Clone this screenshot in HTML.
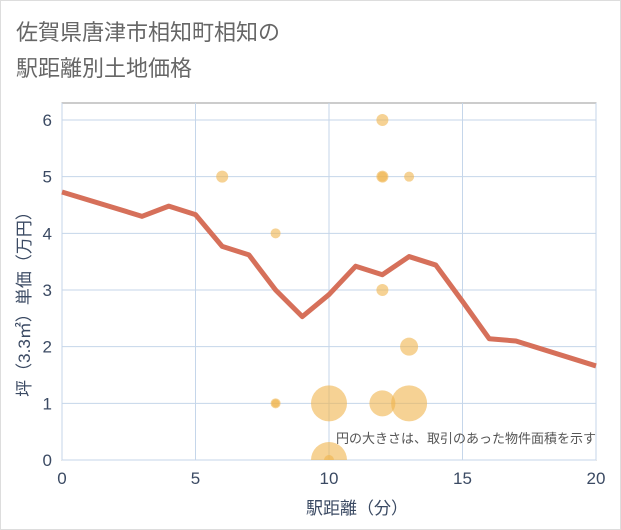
<!DOCTYPE html>
<html><head><meta charset="utf-8"><style>
body{margin:0;background:#fff;}
svg{display:block;font-family:"Liberation Sans","Noto Sans CJK JP",sans-serif;}
</style></head><body>
<svg width="621" height="530" viewBox="0 0 621 530">
<rect x="0.5" y="0.5" width="620" height="529" fill="#fff" stroke="#ddd"/>
<text x="16" y="40" font-size="22" fill="#666">佐賀県唐津市相知町相知の</text>
<text x="16" y="76" font-size="22" fill="#666">駅距離別土地価格</text>
<defs><clipPath id="pc"><rect x="62" y="103" width="534" height="357"/></clipPath></defs>
<rect x="62" y="103" width="534" height="357" fill="#fff" stroke="#999"/>
<g id="grid"></g><g id="axes"></g>
<g id="bubbles" clip-path="url(#pc)"></g>
<g id="line"></g>
<text x="596" y="443" font-size="13" fill="#555" text-anchor="end">円の大きさは、取引のあった物件面積を示す</text>
<text x="357" y="514" font-size="17" fill="#3b4a63" text-anchor="middle">駅距離（分）</text>
<text transform="translate(30,300) rotate(-90)" font-size="17" fill="#3b4a63" text-anchor="middle">坪（3.3㎡）単価（万円）</text>
</svg>
<script>
const xTicks=[0,5,10,15,20];
const yTicks=[0,1,2,3,4,5,6];
const lineX=[0,3,4,5,6,7,8,9,10,11,12,13,14,15,16,17,20];
const lineY=[4.73,4.3,4.48,4.33,3.77,3.62,3.0,2.53,2.92,3.42,3.27,3.59,3.44,2.8,2.14,2.1,1.66];
const bubX=[6,8,8,8,10,10,10,12,12,12,12,12,13,13,13];
const bubY=[5,4,1,1,1,0,0,6,5,5,3,1,5,2,1];
const bubR=[6,5,5,4,18,18,5,6,6,5,6,13,5,9,18];
const NS="http://www.w3.org/2000/svg";
const sx=v=>62+v*534/20, sy=v=>460-v*340/6;
function mk(t,a,p){const e=document.createElementNS(NS,t);for(const k in a)e.setAttribute(k,a[k]);p.appendChild(e);return e;}
const g=document.getElementById('grid'),ax=document.getElementById('axes');
xTicks.forEach(v=>{
 const l=mk('line',{x1:sx(v),x2:sx(v),y1:103,y2:460,stroke:'#c5d6ea','stroke-width':1},g);
 
 
 const t=mk('text',{x:sx(v),y:484,'font-size':17,fill:'#3b4a63','text-anchor':'middle'},ax);t.textContent=v;
 
 
});
yTicks.forEach(v=>{
 const l=mk('line',{x1:62,x2:596,y1:sy(v),y2:sy(v),stroke:'#c5d6ea','stroke-width':1},g);
 
 
 const t=mk('text',{x:52,y:sy(v)+6,'font-size':17,fill:'#3b4a63','text-anchor':'end'},ax);t.textContent=v;
 
 
});
const b=document.getElementById('bubbles');
bubX.forEach((x,i)=>{
 const c=mk('circle',{cx:sx(x),cy:sy(bubY[i]),r:bubR[i],fill:'#f0b44c','fill-opacity':0.6},b);
 
 
});
const p=mk('polyline',{points:lineX.map((x,i)=>sx(x)+','+sy(lineY[i])).join(' '),fill:'none',stroke:'#d6705a','stroke-width':5,'stroke-linejoin':'round'},document.getElementById('line'));


</script>
</body></html>
